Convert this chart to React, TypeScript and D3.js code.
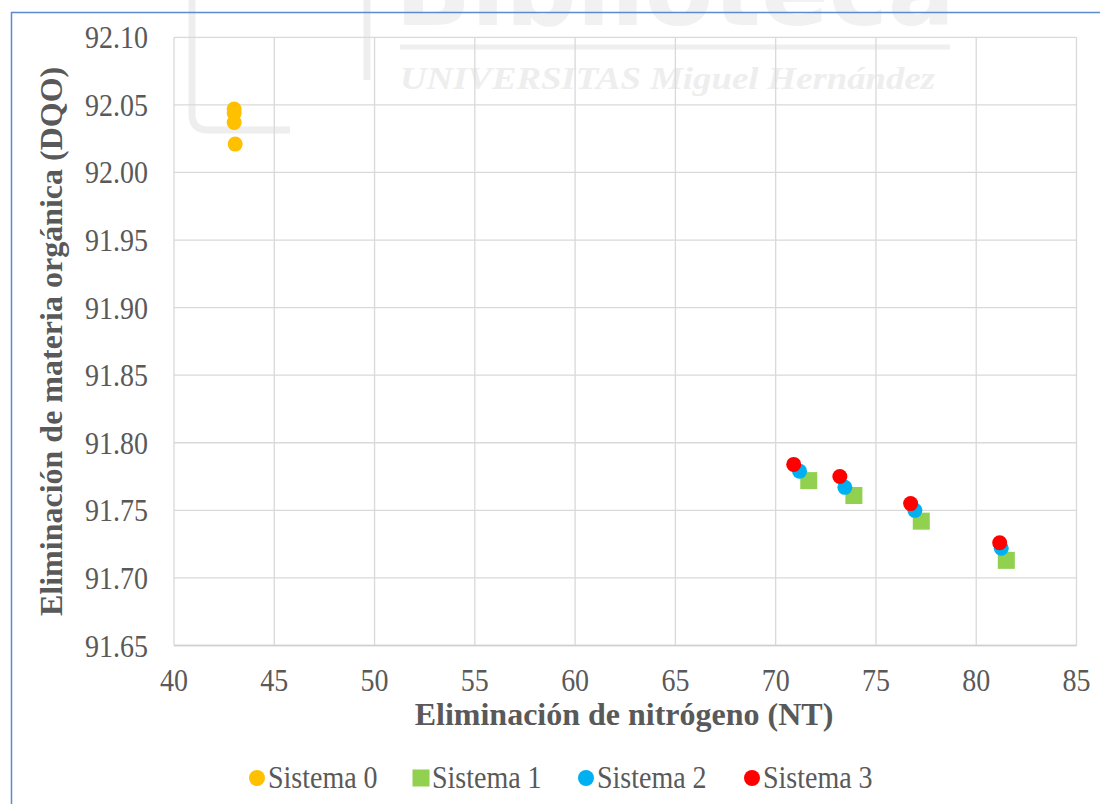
import React from "react";
import * as d3 from "d3";

const xTicks = [40, 45, 50, 55, 60, 65, 70, 75, 80, 85];
const yTicks = [91.65, 91.7, 91.75, 91.8, 91.85, 91.9, 91.95, 92.0, 92.05, 92.1];

const s0x = [43.0, 43.0, 43.0, 43.05];
const s0y = [92.047, 92.044, 92.037, 92.021];
const s1x = [71.65, 73.9, 77.26, 81.5];
const s1y = [91.772, 91.761, 91.742, 91.713];
const s2x = [71.19, 73.45, 76.94, 81.25];
const s2y = [91.779, 91.767, 91.75, 91.722];
const s3x = [70.9, 73.2, 76.73, 81.17];
const s3y = [91.784, 91.775, 91.755, 91.726];

const seriesNames = ["Sistema 0", "Sistema 1", "Sistema 2", "Sistema 3"];
const seriesColors = ["#FFC000", "#92D050", "#00B0F0", "#FF0000"];
const seriesShapes = ["circle", "square", "circle", "circle"];

const W = 1100;
const H = 804;
const left = 174;
const right = 1076.5;
const top = 37.3;
const bottom = 645.5;
const FONT = "'Liberation Serif', 'Times New Roman', serif";
const TXT = "#595959";
const STRETCH = 1.13;

function SText(props: { x: number; y: number; anchor?: string; size: number; bold?: boolean; children: React.ReactNode }) {
  const { x, y, anchor = "start", size, bold, children } = props;
  return (
    <text
      transform={`translate(${x},${y}) scale(1,${STRETCH})`}
      textAnchor={anchor}
      fontSize={size}
      fontWeight={bold ? "bold" : "normal"}
      fill={TXT}
    >
      {children}
    </text>
  );
}

export default function App() {
  const x = d3.scaleLinear().domain([40, 85]).range([left, right]);
  const y = d3.scaleLinear().domain([91.65, 92.1]).range([bottom, top]);
  const series = [
    { xs: s0x, ys: s0y },
    { xs: s1x, ys: s1y },
    { xs: s2x, ys: s2y },
    { xs: s3x, ys: s3y },
  ];
  const legendPos = [257, 421, 586, 752];
  const legendY = 778;

  const marker = (shape: string, cx: number, cy: number, color: string, key: string) =>
    shape === "square" ? (
      <rect key={key} x={cx - 8.5} y={cy - 8.5} width={17} height={17} fill={color} />
    ) : (
      <circle key={key} cx={cx} cy={cy} r={7.5} fill={color} />
    );

  return (
    <svg
      width={W}
      height={H}
      style={{ position: "absolute", left: 0, top: 0, background: "#fff" }}
      fontFamily={FONT}
    >
      <rect x={0} y={0} width={W} height={H} fill="#fff" />
      {/* faint watermark */}
      <g>
        <text x={395} y={25} fontSize={100} fontFamily="'DejaVu Sans', sans-serif" fontWeight="bold" fill="#f1f1f1" textLength={560} lengthAdjust="spacingAndGlyphs">
          Biblioteca
        </text>
        <line x1={400} x2={950} y1={47} y2={47} stroke="#efefef" strokeWidth={5} />
        <text x={400} y={89} fontSize={32} fontFamily={FONT} fontWeight="bold" fontStyle="italic" fill="#eeeeee" textLength={535} lengthAdjust="spacingAndGlyphs">
          UNIVERSITAS Miguel Hernández
        </text>
        <path d="M192,0 L192,114 Q192,130 208,130 L290,130" fill="none" stroke="#eeeeee" strokeWidth={7} />
        <path d="M367,0 L367,80" fill="none" stroke="#eeeeee" strokeWidth={7} />
      </g>
      {/* frame */}
      <rect x={11.5} y={12.5} width={1200} height={900} fill="none" stroke="#5B8BD0" strokeWidth={1.5} />
      {/* grid */}
      {yTicks.map((t) => (
        <line key={"gy" + t} x1={left} x2={right} y1={y(t)} y2={y(t)} stroke="#d9d9d9" strokeWidth={1.3} />
      ))}
      {xTicks.map((t) => (
        <line key={"gx" + t} x1={x(t)} x2={x(t)} y1={top} y2={bottom} stroke="#d9d9d9" strokeWidth={1.3} />
      ))}
      <line x1={left} x2={right} y1={bottom} y2={bottom} stroke="#d0d0d0" strokeWidth={1.5} />
      {/* tick labels */}
      {yTicks.map((t) => (
        <SText key={"ty" + t} x={148} y={y(t) + 11} anchor="end" size={28}>
          {d3.format(".2f")(t)}
        </SText>
      ))}
      {xTicks.map((t) => (
        <SText key={"tx" + t} x={x(t)} y={691} anchor="middle" size={28}>
          {t}
        </SText>
      ))}
      {/* axis titles */}
      <text x={624} y={725} textAnchor="middle" fontSize={32} fontWeight="bold" fill={TXT}>
        Eliminación de nitrógeno (NT)
      </text>
      <text
        transform={`translate(62,${(top + bottom) / 2}) rotate(-90)`}
        textAnchor="middle"
        fontSize={32}
        fontWeight="bold"
        fill={TXT}
      >
        Eliminación de materia orgánica (DQO)
      </text>
      {/* points */}
      {series.map((s, i) => (
        <g key={"s" + i}>
          {s.xs.map((xv, j) => marker(seriesShapes[i], x(xv), y(s.ys[j]), seriesColors[i], `p${i}-${j}`))}
        </g>
      ))}
      {/* legend */}
      {seriesNames.map((n, i) => (
        <g key={"l" + i}>
          {seriesShapes[i] === "square" ? (
            <rect x={legendPos[i] - 8.5} y={legendY - 8.5} width={17} height={17} fill={seriesColors[i]} />
          ) : (
            <circle cx={legendPos[i]} cy={legendY} r={8} fill={seriesColors[i]} />
          )}
          <SText x={legendPos[i] + 11} y={legendY + 10} size={28}>
            {n}
          </SText>
        </g>
      ))}
    </svg>
  );
}
